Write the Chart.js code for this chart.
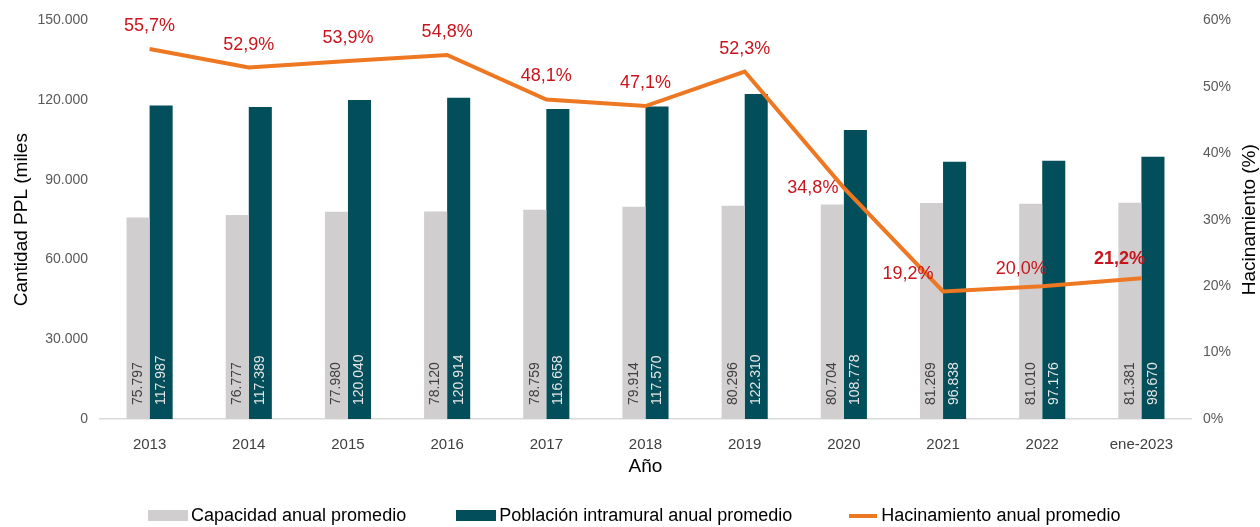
<!DOCTYPE html>
<html lang="es">
<head>
<meta charset="utf-8">
<title>Hacinamiento</title>
<script src="https://cdn.jsdelivr.net/npm/chart.js@4/dist/chart.umd.min.js"></script>
<style>
    html, body { margin: 0; padding: 0; background: #fff; }
    #wrap { position: relative; width: 1260px; height: 527px; overflow: hidden; }
    #grafico { display: block; }
    #leyenda {
        position: absolute; left: 148px; top: 505px;
        display: flex; align-items: center;
        font: 18px "Liberation Sans", Arial, sans-serif; color: #000;
    }
    .item { display: flex; align-items: center; white-space: nowrap; }
    .item .caja { width: 40px; height: 11px; margin-right: 3px; }
    .item .linea { width: 28px; height: 4px; margin-right: 4px; }
</style>
</head>
<body>
<div id="wrap">
    <canvas id="grafico" width="1260" height="527"></canvas>
    <div id="leyenda"></div>
</div>
<script>
const anios = ['2013', '2014', '2015', '2016', '2017', '2018', '2019', '2020', '2021', '2022', 'ene-2023'];
const capacidad = [75797, 76777, 77980, 78120, 78759, 79914, 80296, 80704, 81269, 81010, 81381];
const poblacion = [117987, 117389, 120040, 120914, 116658, 117570, 122310, 108778, 96838, 97176, 98670];
const hacinamiento = [55.7, 52.9, 53.9, 54.8, 48.1, 47.1, 52.3, 34.8, 19.2, 20.0, 21.2];

const ticksIzq = [0, 30000, 60000, 90000, 120000, 150000];
const ticksDer = [0, 10, 20, 30, 40, 50, 60];

const GRIS = '#D0CECE';
const VERDE = '#024E5A';
const NARANJA = '#EE7722';
const ROJO = '#C8141C';
const FUENTE = '"Liberation Sans", Arial, sans-serif';

Chart.defaults.font.family = FUENTE;

const miles = v => Number(v).toLocaleString('de-DE');
const pct = v => v.toFixed(1).replace('.', ',') + '%';

// etiquetas de valores (barras en vertical, porcentajes sobre la línea)
const etiquetas = {
    id: 'etiquetas',
    afterDatasetsDraw(chart) {
        const ctx = chart.ctx;
        ctx.save();
        ctx.font = '14px ' + FUENTE;
        ctx.textAlign = 'left';
        ctx.textBaseline = 'middle';
        [0, 1].forEach(i => {
            ctx.fillStyle = i === 0 ? '#404040' : '#E6E6E6';
            chart.getDatasetMeta(i).data.forEach((bar, j) => {
                ctx.save();
                ctx.translate(bar.x, bar.base - 14);
                ctx.rotate(-Math.PI / 2);
                ctx.fillText(miles(chart.data.datasets[i].data[j]), 0, 0);
                ctx.restore();
            });
        });

        // desplazamiento de cada porcentaje respecto a su punto
        const desfase = [[0, -23], [0, -23], [0, -23], [0, -23], [0, -23], [0, -23], [0, -23],
                         [-31, 0], [-35, -17], [-21, -17], [-22, -19]];
        ctx.textAlign = 'center';
        ctx.fillStyle = ROJO;
        chart.getDatasetMeta(2).data.forEach((pt, j) => {
            const ultimo = j === hacinamiento.length - 1;
            ctx.font = (ultimo ? 'bold ' : '') + '18px ' + FUENTE;
            ctx.fillText(pct(hacinamiento[j]), pt.x + desfase[j][0], pt.y + desfase[j][1]);
        });

        // título del eje derecho, leído de abajo hacia arriba
        const area = chart.chartArea;
        ctx.save();
        ctx.translate(1250, (area.top + area.bottom) / 2);
        ctx.rotate(-Math.PI / 2);
        ctx.font = '19px ' + FUENTE;
        ctx.fillStyle = '#000';
        ctx.textAlign = 'center';
        ctx.fillText('Hacinamiento (%)', 0, 0);
        ctx.restore();

        ctx.restore();
    }
};

const chart = new Chart(document.getElementById('grafico'), {
    type: 'bar',
    data: {
        labels: anios,
        datasets: [
            { label: 'Capacidad anual promedio', data: capacidad, backgroundColor: GRIS, yAxisID: 'y', order: 1 },
            { label: 'Población intramural anual promedio', data: poblacion, backgroundColor: VERDE, yAxisID: 'y', order: 1 },
            {
                type: 'line', label: 'Hacinamiento anual promedio', data: hacinamiento,
                borderColor: NARANJA, backgroundColor: NARANJA, borderWidth: 4,
                pointRadius: 0, tension: 0, yAxisID: 'y1', order: 0
            }
        ]
    },
    options: {
        responsive: false,
        animation: false,
        devicePixelRatio: 1,
        layout: { padding: { top: 19, bottom: 48, left: 0, right: 0 } },
        datasets: { bar: { barPercentage: 1, categoryPercentage: 0.465 } },
        plugins: { legend: { display: false }, tooltip: { enabled: false } },
        scales: {
            x: {
                grid: { display: false },
                border: { display: true, color: '#D9D9D9', width: 1.5 },
                ticks: { color: '#404040', font: { size: 15 }, padding: 9, maxRotation: 0 },
                title: { display: true, text: 'Año', color: '#000', font: { size: 19 }, padding: { top: 0, bottom: 1 } },
                afterFit(s) { s.height = 60; }
            },
            y: {
                position: 'left',
                min: 0, max: 150000,
                grid: { display: false, drawTicks: false },
                border: { display: false },
                afterBuildTicks(s) { s.ticks = ticksIzq.map(v => ({ value: v })); },
                ticks: { color: '#595959', font: { size: 14 }, padding: 12, callback: v => miles(v) },
                title: { display: true, text: 'Cantidad PPL (miles', color: '#000', font: { size: 19 }, padding: { top: 10, bottom: 0 } },
                afterFit(s) { s.width = 100; }
            },
            y1: {
                position: 'right',
                min: 0, max: 60,
                grid: { display: false, drawTicks: false },
                border: { display: false },
                afterBuildTicks(s) { s.ticks = ticksDer.map(v => ({ value: v })); },
                ticks: { color: '#595959', font: { size: 14 }, padding: 12, callback: v => v + '%' },
                afterFit(s) { s.width = 69; }
            }
        }
    },
    plugins: [etiquetas]
});

// leyenda en HTML a partir de los datasets
const leyenda = document.getElementById('leyenda');
const margenes = [50, 57, 0];
chart.data.datasets.forEach((ds, i) => {
    const item = document.createElement('div');
    item.className = 'item';
    item.style.marginRight = margenes[i] + 'px';
    const marca = document.createElement('span');
    marca.className = ds.type === 'line' ? 'linea' : 'caja';
    marca.style.background = ds.type === 'line' ? ds.borderColor : ds.backgroundColor;
    const texto = document.createElement('span');
    texto.textContent = ds.label;
    item.appendChild(marca);
    item.appendChild(texto);
    leyenda.appendChild(item);
});
</script>
</body>
</html>
